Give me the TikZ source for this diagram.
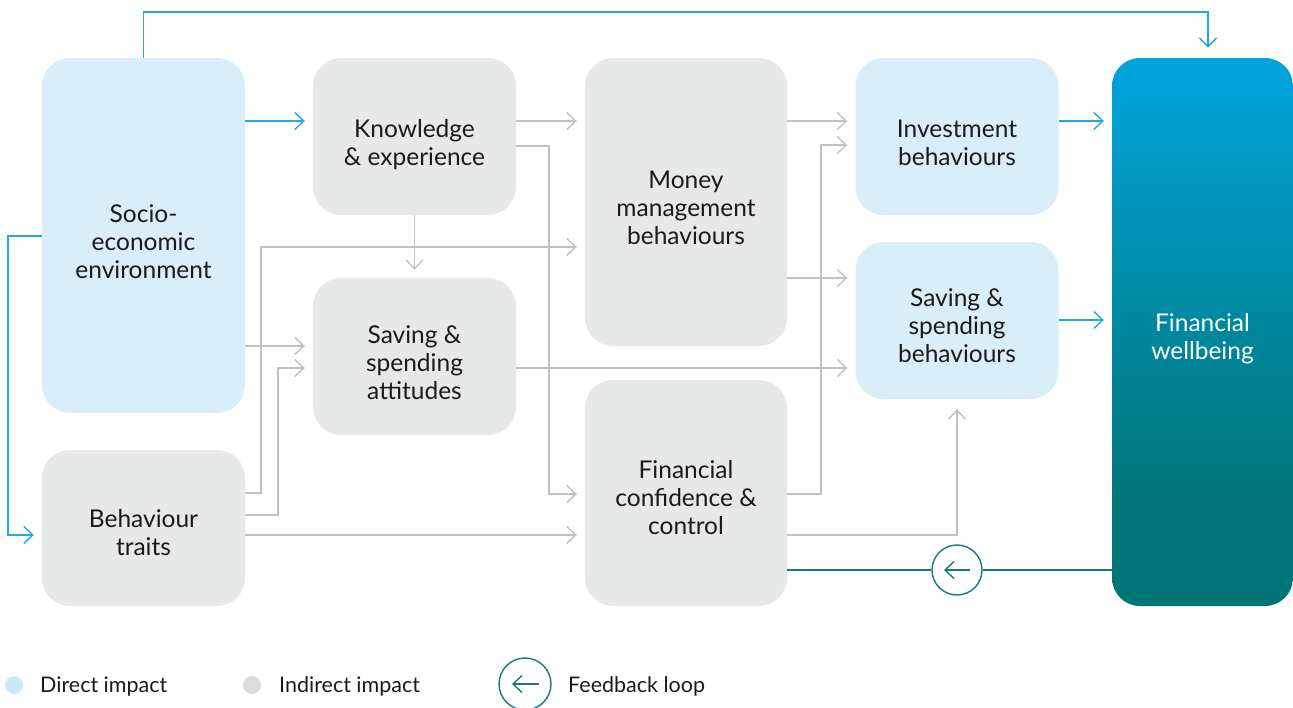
\documentclass[tikz,border=0pt]{standalone}
\usepackage{fontspec}
\setmainfont{Lato}
\usetikzlibrary{arrows.meta}
\definecolor{lblue}{HTML}{DAEEFA}
\definecolor{lgray}{HTML}{E7E8E8}
\definecolor{cblue}{HTML}{1EABE3}
\definecolor{cgray}{HTML}{BFC2C2}
\definecolor{cteal}{HTML}{17797F}
\definecolor{fwtop}{HTML}{00A5DC}
\definecolor{fwbot}{HTML}{007577}
\definecolor{txt}{HTML}{1A1A1A}
\definecolor{dotblue}{HTML}{CDE9F8}
\definecolor{dotgray}{HTML}{D9DBDC}
\pgfdeclareverticalshading{fwshade}{100bp}{color(0bp)=(fwbot); color(35bp)=(fwbot); color(75bp)=(fwtop); color(100bp)=(fwtop)}
\begin{document}
\begin{tikzpicture}[x=1pt,y=-1pt,
  box/.style={rounded corners=28pt, minimum width=203pt, inner sep=0pt},
  direct/.style={box, fill=lblue},
  indirect/.style={box, fill=lgray},
  lbl/.style={align=center, text=txt, inner sep=0pt, font=\fontsize{24.5}{28}\selectfont,
    execute at begin node=\strut, execute at end node=\strut},
  legend/.style={anchor=base west, text=txt, inner sep=0pt, font=\fontsize{21.5}{24}\selectfont},
  conn/.style={line width=1.4pt, -{Straight Barb[length=9pt,width=17pt]}, shorten >=8pt},
  blueconn/.style={conn, draw=cblue},
  grayconn/.style={conn, draw=cgray},
  tealline/.style={line width=1.4pt, draw=cteal},
]
\useasboundingbox (0,0) rectangle (1293,707);

% boxes
\node[direct, minimum height=355pt] (soc) at (143.5,235.5) {};
\node[indirect, minimum height=156pt] (beh) at (143.5,528) {};
\node[indirect, minimum height=157pt] (kno) at (414.5,136.5) {};
\node[indirect, minimum height=157pt] (att) at (414.5,356.5) {};
\node[indirect, minimum width=202pt, minimum height=288pt] (mon) at (686,202) {};
\node[indirect, minimum width=202pt, minimum height=226pt] (con) at (686,493) {};
\node[direct, minimum height=157pt] (inv) at (957,136.5) {};
\node[direct, minimum height=157pt] (sav) at (957,320.5) {};
\node[box, minimum width=181pt, minimum height=548pt, shading=fwshade] (fw) at (1202.5,332) {};

% labels
\node[lbl] (soct) at ([yshift=-10pt]soc.center) {Socio-\\economic\\environment};
\node[lbl] (beht) at ([yshift=-9pt]beh.center) {Behaviour\\traits};
\node[lbl] (knot) at ([yshift=-10pt]kno.center) {Knowledge\\\& experience};
\node[lbl] (attt) at ([yshift=-10pt]att.center) {Saving \&\\spending\\attitudes};
\node[lbl] (mont) at ([yshift=-10pt]mon.center) {Money\\management\\behaviours};
\node[lbl] (cont) at ([yshift=-9pt]con.center) {Financial\\confidence \&\\control};
\node[lbl] (invt) at ([yshift=-10pt]inv.center) {Investment\\behaviours};
\node[lbl] (savt) at ([yshift=-9pt]sav.center) {Saving \&\\spending\\behaviours};
\node[lbl, text=white] (fwt) at ([yshift=-9pt]fw.center) {Financial\\wellbeing};

% direct connectors
\draw[blueconn, shorten >=10pt] (soc.north) |- (1208,12) -- (fw.north -| 1208,0);
\draw[blueconn] (soc.east |- 0,121) -- (kno.west |- 0,121);
\draw[blueconn] (soc.west |- 0,236) -- (8,236) |- (beh.west |- 0,535);
\draw[blueconn] (inv.east |- 0,121) -- (fw.west |- 0,121);
\draw[blueconn] (sav.east |- 0,320) -- (fw.west |- 0,320);

% indirect connectors
\draw[grayconn] (kno.east |- 0,121) -- (mon.west |- 0,121);
\draw[grayconn] (kno.east |- 0,146) -- (549,146) |- (con.west |- 0,494);
\draw[grayconn] (kno.south) -- (att.north);
\draw[grayconn] (beh.east |- 0,493) -- (261,493) |- (mon.west |- 0,247);
\draw[grayconn] (beh.east |- 0,515) -- (278,515) |- (att.west |- 0,368);
\draw[grayconn] (soc.east |- 0,346) -- (att.west |- 0,346);
\draw[grayconn] (beh.east |- 0,535) -- (con.west |- 0,535);
\draw[grayconn] (att.east |- 0,368) -- (sav.west |- 0,368);
\draw[grayconn] (mon.east |- 0,121) -- (inv.west |- 0,121);
\draw[grayconn] (mon.east |- 0,278) -- (sav.west |- 0,278);
\draw[grayconn] (con.east |- 0,494) -- (821,494) |- (inv.west |- 0,145);
\draw[grayconn, shorten >=10pt] (con.east |- 0,535) -| (sav.south);

% feedback loop
\node[circle, draw=cteal, line width=1.4pt, minimum size=50pt, inner sep=0pt] (fb) at (957,570) {};
\draw[tealline] (fw.west |- 0,570) -- (fb.east);
\draw[tealline] (fb.west) -- (con.east |- 0,570);
\draw[tealline, -{Straight Barb[length=9pt,width=17pt]}] ([xshift=13pt]fb.center) -- ([xshift=-13pt]fb.center);

% legend
\node[circle, fill=dotblue, minimum size=18pt, inner sep=0pt] (ldb) at (14,685) {};
\node[legend] (ltb) at (40,692) {Direct impact};
\node[circle, fill=dotgray, minimum size=18pt, inner sep=0pt] (ldg) at (252,685) {};
\node[legend] (ltg) at (279,692) {Indirect impact};
\node[circle, draw=cteal, line width=1.4pt, minimum size=52pt, inner sep=0pt] (lfb) at (525,684) {};
\draw[tealline, -{Straight Barb[length=9pt,width=17pt]}] ([xshift=14pt]lfb.center) -- ([xshift=-13pt]lfb.center);
\node[legend] (ltf) at (568,692) {Feedback loop};
\end{tikzpicture}
\end{document}
